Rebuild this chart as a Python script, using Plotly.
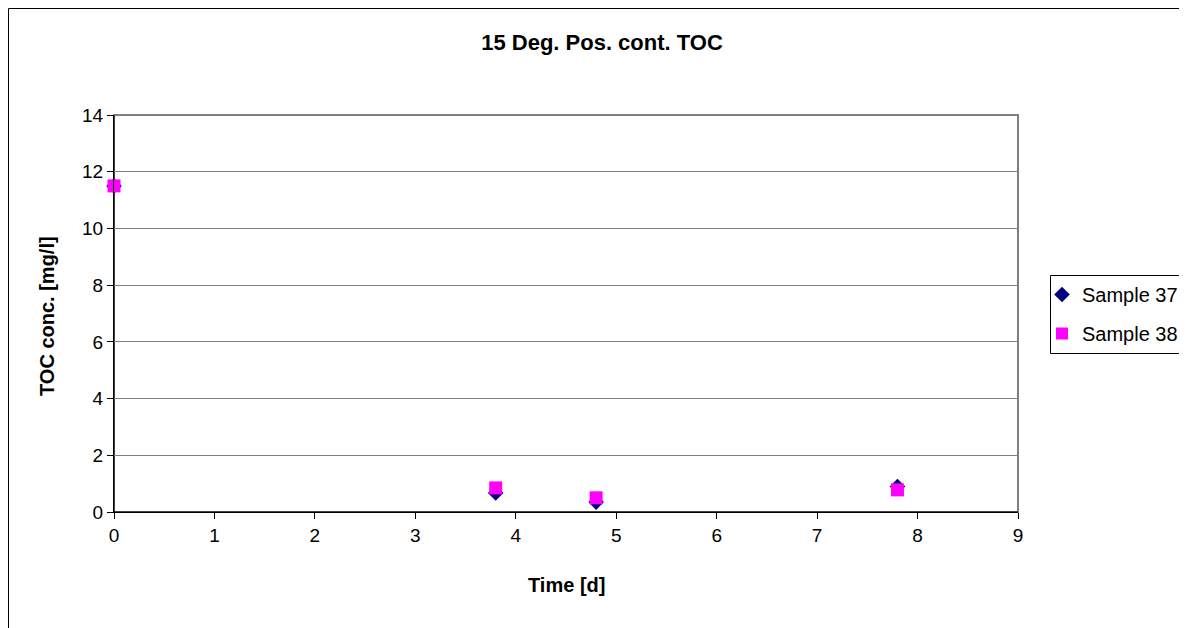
import plotly.graph_objects as go

time_37 = [0, 3.8, 4.8, 7.8]
toc_37 = [11.5, 0.67, 0.35, 0.9]
time_38 = [0, 3.8, 4.8, 7.8]
toc_38 = [11.5, 0.85, 0.5, 0.78]

x_ticks = list(range(0, 10))
y_ticks = list(range(0, 15, 2))

W, H = 1187, 628
L, T = 106, 107
pw, ph = 904, 397
R, B = W - L - pw, H - T - ph


def px_x(v):
    return (v - L) / pw


def px_y(v):
    return (T + ph - v) / ph


fig = go.Figure()
fig.add_trace(go.Scatter(x=time_37, y=toc_37, mode="markers", name="Sample 37",
                         legendgroup="s37", cliponaxis=False,
                         marker=dict(symbol="diamond", size=12, color="#000080")))
fig.add_trace(go.Scatter(x=time_38, y=toc_38, mode="markers", name="Sample 38",
                         legendgroup="s38", cliponaxis=False,
                         marker=dict(symbol="square", size=13, color="#FF00FF")))

font = "Liberation Sans, Arial, sans-serif"
fig.update_layout(
    width=W, height=H,
    margin=dict(l=L, r=R, t=T, b=B, autoexpand=False),
    paper_bgcolor="white", plot_bgcolor="white",
    font=dict(family=font, size=19, color="black"),
    title=dict(text="<b>15 Deg. Pos. cont. TOC</b>", x=594 / W, xanchor="center",
               y=1 - 34 / H, yanchor="middle", font=dict(size=22)),
    xaxis=dict(range=[0, 9], tickvals=x_ticks, showgrid=False, zeroline=False,
               showline=True, linecolor="black", linewidth=1, mirror=False,
               ticks="outside", ticklen=6, tickcolor="black",
               tickfont=dict(size=19)),
    yaxis=dict(range=[0, 14], tickvals=y_ticks, showgrid=True, gridcolor="#808080",
               gridwidth=1, zeroline=False, showline=True, linecolor="black",
               ticks="outside", ticklen=6, tickcolor="black",
               tickfont=dict(size=19)),
    legend=dict(x=px_x(1034), xanchor="left", y=px_y(267), yanchor="top",
                borderwidth=0, bgcolor="rgba(0,0,0,0)",
                font=dict(size=20), itemsizing="constant", tracegroupgap=10),
    showlegend=True,
    annotations=[
        dict(text="<b>Time [d]</b>", xref="paper", yref="paper",
             x=px_x(558), y=px_y(577), xanchor="center", yanchor="middle",
             showarrow=False, font=dict(size=20)),
        dict(text="<b>TOC conc. [mg/l]</b>", xref="paper", yref="paper",
             x=px_x(39), y=px_y(308), xanchor="center", yanchor="middle",
             showarrow=False, textangle=-90, font=dict(size=20)),
    ],
)

# outer chart border
fig.add_shape(type="rect", xref="paper", yref="paper",
              x0=px_x(0.5), x1=px_x(W + 20), y0=px_y(H + 20), y1=px_y(0.5),
              line=dict(color="black", width=1), layer="below")
# legend box
fig.add_shape(type="rect", xref="paper", yref="paper",
              x0=px_x(1042.5), x1=px_x(W + 20), y0=px_y(345.5), y1=px_y(267.5),
              line=dict(color="black", width=1), fillcolor="white", layer="below")
# plot area border (gray)
fig.add_shape(type="rect", xref="paper", yref="paper", x0=0, x1=1, y0=0, y1=1,
              line=dict(color="#808080", width=2), layer="below")
# axis lines
fig.add_shape(type="line", xref="paper", yref="paper", x0=0, x1=1, y0=0, y1=0,
              line=dict(color="black", width=1), layer="below")
fig.add_shape(type="line", xref="paper", yref="paper", x0=0, x1=0, y0=0, y1=1,
              line=dict(color="black", width=1), layer="below")

fig.write_html("out.html")
